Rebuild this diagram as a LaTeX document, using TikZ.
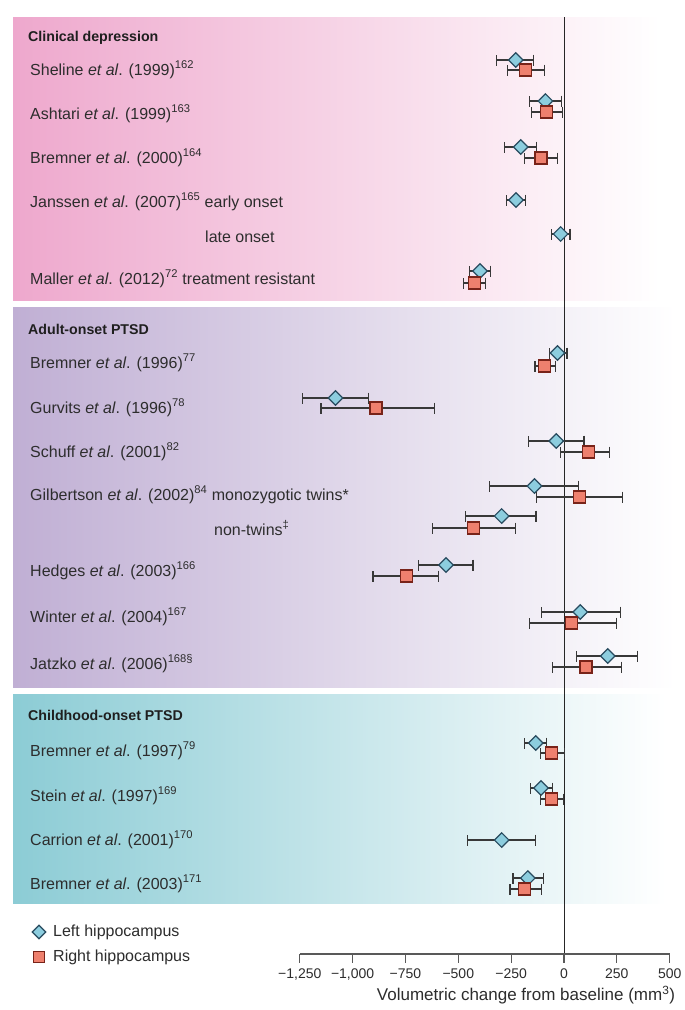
\documentclass[tikz,border=0pt]{standalone}
\usepackage{fontspec}
\setmainfont{Liberation Sans}
\usetikzlibrary{shapes.geometric,arrows.meta}
\definecolor{pinkL}{RGB}{238,168,205}
\definecolor{purpL}{RGB}{192,175,212}
\definecolor{tealL}{RGB}{140,204,213}
\definecolor{dmfill}{RGB}{140,205,222}
\definecolor{dmdraw}{RGB}{40,75,95}
\definecolor{sqfill}{RGB}{238,128,110}
\definecolor{sqdraw}{RGB}{120,35,25}
\definecolor{txt}{RGB}{45,45,45}
\newcommand\dpt[6]{%
  \coordinate (#1l) at ({X(#4)},#3);
  \coordinate (#1r) at ({X(#6)},#3);
  \draw[ebar,{Bar[width=11pt]}-{Bar[width=11pt]}] (#1l) -- (#1r);
  \node[#2] (#1) at ({X(#5)},#3) {};}
\begin{document}
\begin{tikzpicture}[x=1pt,y=-1pt,
  declare function={X(\v)=564+0.2114*\v;},
  ebar/.style={draw=black!78, line width=1.1pt},
  ld/.style={diamond, draw=dmdraw, fill=dmfill, line width=1.2pt, minimum width=15pt, minimum height=15pt, inner sep=0pt},
  rs/.style={rectangle, draw=sqdraw, fill=sqfill, line width=1.2pt, minimum size=12pt, inner sep=0pt},
  lab/.style={anchor=base west, text=txt, font=\fontsize{16}{19}\selectfont, inner sep=0pt},
  hdr/.style={anchor=base west, text=black!88, font=\bfseries\fontsize{14.2}{17}\selectfont, inner sep=0pt},
  tick/.style={text=txt, font=\fontsize{14}{17}\selectfont, inner sep=0pt},
  ]
\fill[white] (0,0) rectangle (685,1010);
\useasboundingbox (0,0) rectangle (685,1010);
% panels
\shade[left color=pinkL, right color=white] (13,17) rectangle (660,300);
\shade[left color=purpL, right color=white] (13,307) rectangle (676,687);
\shade[left color=tealL, right color=white] (13,694) rectangle (666,903);
% zero line
\coordinate (ztop) at (564,17);
\coordinate (zbot) at (564,954);
\draw[line width=1pt, black!85] (ztop) -- (zbot);
% headers and labels
\node[hdr] (h1) at (28,41) {Clinical depression};
\node[lab] (t1) at (30,75) {Sheline \textit{et al}. (1999)\textsuperscript{162}};
\node[lab] (t2) at (30,119) {Ashtari \textit{et al}. (1999)\textsuperscript{163}};
\node[lab] (t3) at (30,163) {Bremner \textit{et al}. (2000)\textsuperscript{164}};
\node[lab] (t4) at (30,207) {Janssen \textit{et al}. (2007)\textsuperscript{165} early onset};
\node[lab] (t5) at (205,242) {late onset};
\node[lab] (t6) at (30,284) {Maller \textit{et al}. (2012)\textsuperscript{72} treatment resistant};
\node[hdr] (h2) at (28,334) {Adult-onset PTSD};
\node[lab] (t7) at (30,368) {Bremner \textit{et al}. (1996)\textsuperscript{77}};
\node[lab] (t8) at (30,413) {Gurvits \textit{et al}. (1996)\textsuperscript{78}};
\node[lab] (t9) at (30,457) {Schuff \textit{et al}. (2001)\textsuperscript{82}};
\node[lab] (t10) at (30,500) {Gilbertson \textit{et al}. (2002)\textsuperscript{84} monozygotic twins*};
\node[lab] (t11) at (214,535) {non-twins\textsuperscript{‡}};
\node[lab] (t12) at (30,576) {Hedges \textit{et al}. (2003)\textsuperscript{166}};
\node[lab] (t13) at (30,622) {Winter \textit{et al}. (2004)\textsuperscript{167}};
\node[lab] (t14) at (30,669) {Jatzko \textit{et al}. (2006)\textsuperscript{168§}};
\node[hdr] (h3) at (28,720) {Childhood-onset PTSD};
\node[lab] (t15) at (30,756) {Bremner \textit{et al}. (1997)\textsuperscript{79}};
\node[lab] (t16) at (30,801) {Stein \textit{et al}. (1997)\textsuperscript{169}};
\node[lab] (t17) at (30,845) {Carrion \textit{et al}. (2001)\textsuperscript{170}};
\node[lab] (t18) at (30,889) {Bremner \textit{et al}. (2003)\textsuperscript{171}};
% data
\dpt{shL}{ld}{60}{-323}{-228}{-143}
\dpt{shR}{rs}{70}{-271}{-184}{-91}
\dpt{asL}{ld}{101}{-167}{-88}{-8}
\dpt{asR}{rs}{112}{-156}{-82}{-3}
\dpt{bzL}{ld}{147}{-284}{-205}{-129}
\dpt{bzR}{rs}{158}{-190}{-109}{-27}
\dpt{jeL}{ld}{200}{-275}{-227}{-180}
\dpt{jlL}{ld}{234}{-62}{-16}{31}
\dpt{maL}{ld}{271}{-451}{-397}{-347}
\dpt{maR}{rs}{283}{-480}{-424}{-368}
\dpt{b96L}{ld}{353}{-72}{-31}{17}
\dpt{b96R}{rs}{366}{-140}{-93}{-37}
\dpt{guL}{ld}{398}{-1241}{-1081}{-924}
\dpt{guR}{rs}{408}{-1152}{-889}{-609}
\dpt{scL}{ld}{441}{-169}{-37}{97}
\dpt{scR}{rs}{452}{-20}{114}{217}
\dpt{giL}{ld}{486}{-356}{-140}{73}
\dpt{giR}{rs}{497}{-134}{73}{280}
\dpt{ntL}{ld}{516}{-469}{-295}{-130}
\dpt{ntR}{rs}{528}{-626}{-428}{-227}
\dpt{heL}{ld}{565}{-689}{-558}{-428}
\dpt{heR}{rs}{576}{-906}{-744}{-589}
\dpt{wiL}{ld}{612}{-107}{77}{269}
\dpt{wiR}{rs}{623}{-165}{37}{253}
\dpt{jaL}{ld}{656}{58}{207}{352}
\dpt{jaR}{rs}{667}{-58}{104}{273}
\dpt{b97L}{ld}{743}{-190}{-134}{-82}
\dpt{b97R}{rs}{753}{-114}{-58}{4}
\dpt{stL}{ld}{788}{-161}{-109}{-52}
\dpt{stR}{rs}{799}{-112}{-58}{0}
\dpt{caL}{ld}{840}{-461}{-295}{-134}
\dpt{b03L}{ld}{878}{-244}{-171}{-93}
\dpt{b03R}{rs}{889}{-258}{-186}{-103}
% legend
\node[ld, minimum width=14pt, minimum height=14pt] (legL) at (39,932) {};
\node[lab, anchor=west] (legLt) at (53,932) {Left hippocampus};
\node[rs, minimum size=11pt] (legR) at (39,957) {};
\node[lab, anchor=west] (legRt) at (53,957) {Right hippocampus};
% axis
\coordinate (axl) at ({X(-1250)},954);
\coordinate (axr) at ({X(500)},954);
\draw[line width=1.2pt, black!65] (axl) -- (axr);
\foreach \v/\t in {-1250/{−1,250}, -1000/{−1,000}, -750/{−750}, -500/{−500}, -250/{−250}, 0/0, 250/250, 500/500}{
  \draw[line width=1.2pt, black!65] ({X(\v)},954) -- ({X(\v)},963);
  \node[tick] at ({X(\v)},974) {\t};
}
\node[tick, font=\fontsize{17}{20}\selectfont] (axlab) at (526,995) {Volumetric change from baseline (mm\textsuperscript{3})};
\end{tikzpicture}
\end{document}
